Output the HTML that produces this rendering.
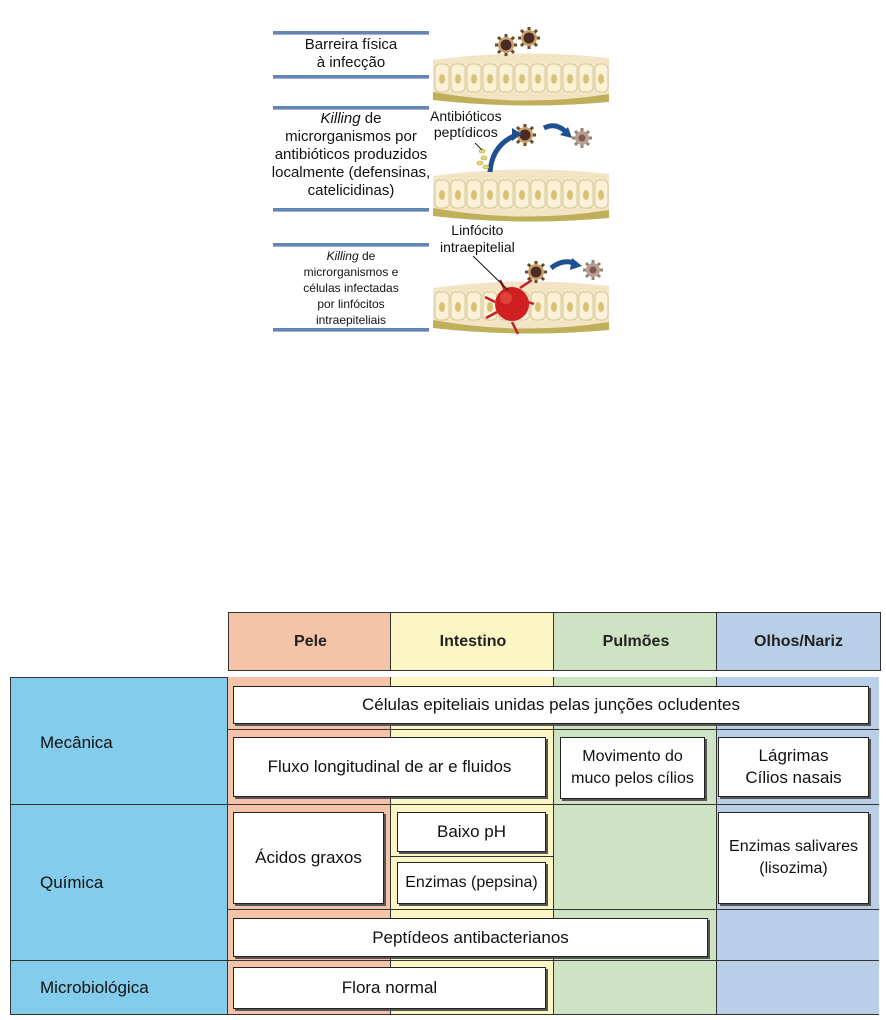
<!DOCTYPE html>
<html><head><meta charset="utf-8"><style>
body{margin:0;width:886px;height:1020px;background:#fff;position:relative;font-family:"Liberation Sans",sans-serif;overflow:hidden}
.a{position:absolute;box-sizing:border-box}
.ln{position:absolute;left:273px;width:156px;height:3px;background:#5f87b5;border-bottom:1px solid #aac}
.lt{position:absolute;left:273px;width:156px;text-align:center;color:#111;line-height:18px;font-size:15px}
.col{position:absolute;top:677px;height:338px;border-left:1px solid #333}
.bx{position:absolute;background:#fff;border:1.5px solid #222;box-shadow:2px 2px 0 #555;display:flex;align-items:center;justify-content:center;text-align:center;font-size:17px;color:#111;line-height:22px;white-space:nowrap}
.hd{position:absolute;top:612px;height:57px;border:1px solid #333;display:flex;align-items:center;justify-content:center;font-size:16px;font-weight:bold;color:#222}
.rl{position:absolute;left:40px;font-size:17px;color:#111}
.hl{position:absolute;height:1px;background:#333}
</style></head><body>

<div class="ln" style="top:31px"></div>
<div class="lt" style="top:36px">Barreira física<br>à infecção</div>
<div class="ln" style="top:75px"></div>

<div class="ln" style="top:106px"></div>
<div class="lt" style="top:110px;width:170px;left:266px"><i>Killing</i> de<br>microrganismos por<br>antibióticos produzidos<br>localmente (defensinas,<br>catelicidinas)</div>
<div class="ln" style="top:208px"></div>

<div class="ln" style="top:243px"></div>
<div class="lt" style="top:248px;font-size:12px;line-height:16px"><i>Killing</i> de<br>microrganismos e<br>células infectadas<br>por linfócitos<br>intraepiteliais</div>
<div class="ln" style="top:328px"></div>

<div class="a" style="left:430px;top:108px;font-size:14px;line-height:16px;color:#111">Antibióticos<br>&nbsp;peptídicos</div>
<div class="a" style="left:440px;top:222px;font-size:14px;line-height:17px;color:#111;text-align:center">Linfócito<br>intraepitelial</div>

<svg class="a" style="left:0;top:0" width="886" height="340">
<defs>
<g id="ep">
<path d="M2,10 Q90,-2 178,8 L178,48 Q90,54 2,46Z" fill="#f2e4c4"/>
<path d="M2,42 Q90,58 178,44 L178,52 Q90,60 2,50Z" fill="#bfae5a"/>
<g fill="#faf1d6" stroke="#d8c79a" stroke-width="1">
<rect x="4" y="14" width="14" height="28" rx="5"/><rect x="20" y="14" width="14" height="28" rx="5"/><rect x="36" y="14" width="14" height="28" rx="5"/><rect x="52" y="14" width="14" height="28" rx="5"/><rect x="68" y="14" width="14" height="28" rx="5"/><rect x="84" y="14" width="14" height="28" rx="5"/><rect x="100" y="14" width="14" height="28" rx="5"/><rect x="116" y="14" width="14" height="28" rx="5"/><rect x="132" y="14" width="14" height="28" rx="5"/><rect x="148" y="14" width="14" height="28" rx="5"/><rect x="164" y="14" width="13" height="28" rx="5"/>
</g>
<g fill="#d9c275"><ellipse cx="11" cy="29" rx="3" ry="5"/><ellipse cx="27" cy="29" rx="3" ry="5"/><ellipse cx="43" cy="29" rx="3" ry="5"/><ellipse cx="59" cy="29" rx="3" ry="5"/><ellipse cx="75" cy="29" rx="3" ry="5"/><ellipse cx="91" cy="29" rx="3" ry="5"/><ellipse cx="107" cy="29" rx="3" ry="5"/><ellipse cx="123" cy="29" rx="3" ry="5"/><ellipse cx="139" cy="29" rx="3" ry="5"/><ellipse cx="155" cy="29" rx="3" ry="5"/><ellipse cx="170" cy="29" rx="3" ry="5"/></g>
</g>
<g id="mb"><g stroke="#6b4a2a" stroke-width="3"><line x1="-11" y1="0" x2="11" y2="0"/><line x1="0" y1="-11" x2="0" y2="11"/><line x1="-8" y1="-8" x2="8" y2="8"/><line x1="-8" y1="8" x2="8" y2="-8"/></g><circle r="8" fill="#c9a46a"/><circle r="5.5" fill="#4a2a25"/></g>
<g id="mg"><g stroke="#9a8070" stroke-width="3"><line x1="-10" y1="0" x2="10" y2="0"/><line x1="0" y1="-10" x2="0" y2="10"/><line x1="-7" y1="-7" x2="7" y2="7"/><line x1="-7" y1="7" x2="7" y2="-7"/></g><circle r="7" fill="#b8a090"/><circle r="3.5" fill="#7a5a55"/></g>
</defs>
<use href="#ep" x="431" y="50"/>
<use href="#mb" x="506" y="45"/><use href="#mb" x="529" y="38"/>
<use href="#ep" x="431" y="166"/>
<use href="#mb" x="525" y="135"/><use href="#mg" x="582" y="138"/>
<path d="M490,172 Q492,145 516,135" stroke="#1f4f92" stroke-width="5" fill="none"/><path d="M512,128 L522,134 L512,141Z" fill="#1f4f92"/>
<path d="M544,128 Q556,122 566,132" stroke="#1f4f92" stroke-width="5" fill="none"/><path d="M560,135 L572,138 L568,127Z" fill="#1f4f92"/>
<g fill="#e8d870" stroke="#b0a040" stroke-width=".6"><ellipse cx="484" cy="158" rx="3" ry="2"/><ellipse cx="480" cy="163" rx="3" ry="2"/><ellipse cx="486" cy="167" rx="3" ry="2"/><ellipse cx="482" cy="151" rx="3" ry="2"/></g>
<line x1="475" y1="143" x2="482" y2="150" stroke="#222"/>
<use href="#ep" x="431" y="278"/>
<use href="#mb" x="536" y="272"/><use href="#mg" x="593" y="270"/>
<path d="M551,268 Q564,258 576,264" stroke="#1f4f92" stroke-width="5" fill="none"/><path d="M572,258 L582,266 L570,270Z" fill="#1f4f92"/>
<g stroke="#c0202a" stroke-width="2.5" fill="none"><path d="M495,302 L485,297 M497,312 L486,318 M520,288 L532,280 M522,300 L534,304 M512,322 L518,334 M505,290 L500,280"/></g>
<circle cx="512" cy="304" r="17" fill="#d01f22"/><circle cx="506" cy="298" r="6" fill="#e85a4a" opacity=".6"/>
<line x1="473" y1="256" x2="508" y2="290" stroke="#111" stroke-width="1"/>
</svg>

<div class="hd" style="left:228px;width:163px;background:#f4c3a8">Pele</div>
<div class="hd" style="left:390px;width:164px;background:#fbf6c4">Intestino</div>
<div class="hd" style="left:553px;width:164px;background:#cde3c3">Pulmões</div>
<div class="hd" style="left:716px;width:163px;background:#b9cfe8">Olhos/Nariz</div>

<div class="a" style="left:10px;top:677px;width:869px;height:338px;border:1px solid #333;background:#fff"></div>
<div class="a" style="left:10px;top:677px;width:218px;height:338px;background:#84ccec;border:1px solid #333"></div>
<div class="a" style="left:228px;top:677px;width:162px;height:338px;background:#f4c3a8"></div>
<div class="a" style="left:390px;top:677px;width:163px;height:338px;background:#fbf6c4"></div>
<div class="a" style="left:553px;top:677px;width:163px;height:338px;background:#cde3c3"></div>
<div class="a" style="left:716px;top:677px;width:163px;height:338px;background:#b9cfe8"></div>
<div class="col" style="left:390px"></div><div class="col" style="left:553px"></div><div class="col" style="left:716px"></div>
<div class="hl" style="left:10px;top:804px;width:869px"></div>
<div class="hl" style="left:10px;top:960px;width:869px"></div>
<div class="hl" style="left:228px;top:729px;width:651px"></div>
<div class="hl" style="left:228px;top:909px;width:651px"></div>
<div class="hl" style="left:390px;top:856px;width:163px"></div>
<div class="a" style="left:10px;top:1014px;width:869px;height:1px;background:#333"></div>

<div class="rl" style="top:733px">Mecânica</div>
<div class="rl" style="top:873px">Química</div>
<div class="rl" style="top:978px">Microbiológica</div>

<div class="bx" style="left:233px;top:686px;width:634px;height:36px">Células epiteliais unidas pelas junções ocludentes</div>
<div class="bx" style="left:233px;top:737px;width:311px;height:58px">Fluxo longitudinal de ar e fluidos</div>
<div class="bx" style="left:560px;top:737px;width:143px;height:60px;font-size:16px">Movimento do<br>muco pelos cílios</div>
<div class="bx" style="left:718px;top:737px;width:149px;height:58px">Lágrimas<br>Cílios nasais</div>
<div class="bx" style="left:233px;top:812px;width:149px;height:90px">Ácidos graxos</div>
<div class="bx" style="left:397px;top:812px;width:147px;height:38px">Baixo pH</div>
<div class="bx" style="left:397px;top:862px;width:147px;height:40px;font-size:16px">Enzimas (pepsina)</div>
<div class="bx" style="left:718px;top:812px;width:149px;height:90px;font-size:16px">Enzimas salivares<br>(lisozima)</div>
<div class="bx" style="left:233px;top:918px;width:473px;height:37px">Peptídeos antibacterianos</div>
<div class="bx" style="left:233px;top:967px;width:311px;height:40px">Flora normal</div>
</body></html>
